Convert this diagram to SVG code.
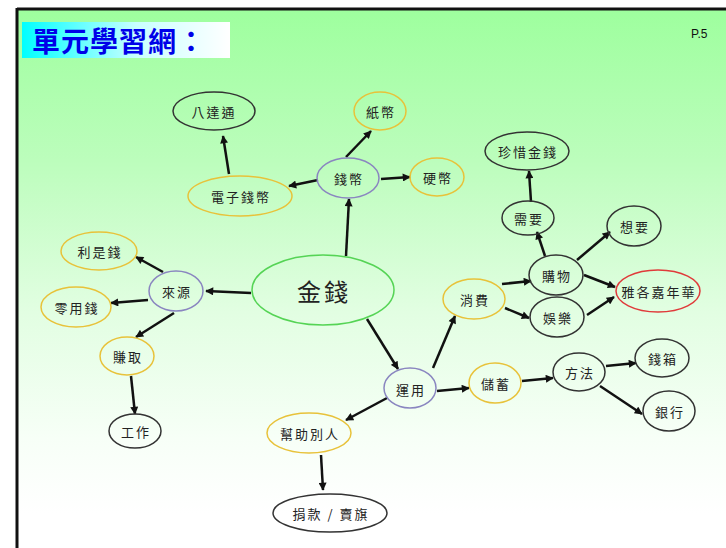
<svg xmlns="http://www.w3.org/2000/svg" width="726" height="548" viewBox="0 0 726 548">
<defs>
<linearGradient id="bg" x1="0" y1="0" x2="0" y2="1">
<stop offset="0" stop-color="#9eff9e"/>
<stop offset="0.3" stop-color="#bcfdbc"/>
<stop offset="0.6" stop-color="#e2fee2"/>
<stop offset="0.85" stop-color="#f7fff7"/>
<stop offset="1" stop-color="#ffffff"/>
</linearGradient>
<linearGradient id="tg" x1="0" y1="0" x2="1" y2="0">
<stop offset="0" stop-color="#00ffff"/>
<stop offset="0.55" stop-color="#c8ffff"/>
<stop offset="1" stop-color="#ffffff"/>
</linearGradient>
<marker id="ah" viewBox="0 0 10 10" refX="9" refY="5" markerWidth="9" markerHeight="8" markerUnits="userSpaceOnUse" orient="auto">
<path d="M0,0 L10,5 L0,10 z" fill="#111"/>
</marker>
</defs>
<style>
.n{fill:none;stroke-width:1.5}
.k{stroke:#333}
.y{stroke:#e8c23a}
.p{stroke:#8a86c0}
.r{stroke:#e03a3a}
.g{stroke:#55d455}
.t{font-family:"Noto Sans CJK TC","Noto Sans CJK SC",sans-serif;font-size:13px;fill:#222;text-anchor:middle;dominant-baseline:central;letter-spacing:2px}
#links line{stroke:#111;stroke-width:2.5;marker-end:url(#ah)}
</style>
<rect x="0" y="0" width="726" height="548" fill="#fff"/>
<rect x="17" y="9" width="720" height="505" fill="url(#bg)"/>
<line x1="17" y1="9" x2="726" y2="9" stroke="#111" stroke-width="3"/>
<line x1="17" y1="8" x2="17" y2="548" stroke="#111" stroke-width="3"/>
<g id="title">
<rect x="22" y="22" width="208" height="36" fill="url(#tg)"/>
<text x="32" y="52" font-family="'Noto Sans CJK TC','Noto Sans CJK SC',sans-serif" font-weight="bold" font-size="28" letter-spacing="1" fill="#0000e8">單元學習網：</text>
</g>
<text x="691" y="38" font-family="'Liberation Sans',Arial,sans-serif" font-size="12" fill="#111">P.5</text>
<g id="links">
<line x1="229" y1="174" x2="223" y2="136"/>
<line x1="346" y1="157" x2="371" y2="131"/>
<line x1="318" y1="180" x2="289" y2="186"/>
<line x1="381" y1="179" x2="410" y2="177"/>
<line x1="346" y1="256" x2="349" y2="199"/>
<line x1="531" y1="202" x2="529" y2="171"/>
<line x1="545" y1="256" x2="537" y2="232"/>
<line x1="577" y1="260" x2="610" y2="232"/>
<line x1="584" y1="275" x2="615" y2="287"/>
<line x1="502" y1="284" x2="531" y2="281"/>
<line x1="587" y1="315" x2="614" y2="297"/>
<line x1="505" y1="308" x2="529" y2="318"/>
<line x1="433" y1="368" x2="455" y2="316"/>
<line x1="163" y1="272" x2="136" y2="257"/>
<line x1="148" y1="300" x2="111" y2="303"/>
<line x1="174" y1="313" x2="136" y2="337"/>
<line x1="131" y1="376" x2="135" y2="414"/>
<line x1="251" y1="293" x2="206" y2="291"/>
<line x1="367" y1="319" x2="398" y2="369"/>
<line x1="437" y1="391" x2="469" y2="388"/>
<line x1="522" y1="381" x2="553" y2="378"/>
<line x1="606" y1="366" x2="636" y2="363"/>
<line x1="600" y1="386" x2="642" y2="414"/>
<line x1="387" y1="398" x2="346" y2="420"/>
<line x1="321" y1="455" x2="323" y2="490"/>
</g>
<g id="n-badatong"><ellipse class="n k" cx="214" cy="111" rx="41" ry="19"/><text class="t" x="214" y="111">八達通</text></g>
<g id="n-zhibi"><ellipse class="n y" cx="380" cy="111" rx="26" ry="19"/><text class="t" x="381" y="111">紙幣</text></g>
<g id="n-dianzi"><ellipse class="n y" cx="240" cy="196" rx="52" ry="20"/><text class="t" x="241" y="196">電子錢幣</text></g>
<g id="n-qianbi"><ellipse class="n p" cx="348" cy="178" rx="31" ry="20"/><text class="t" x="349" y="178">錢幣</text></g>
<g id="n-yingbi"><ellipse class="n y" cx="437" cy="177" rx="27" ry="19"/><text class="t" x="438" y="177">硬幣</text></g>
<g id="n-zhenxi"><ellipse class="n k" cx="527" cy="151" rx="42" ry="19"/><text class="t" x="528" y="151">珍惜金錢</text></g>
<g id="n-xuyao"><ellipse class="n k" cx="528" cy="218" rx="26" ry="17"/><text class="t" x="529" y="218">需要</text></g>
<g id="n-xiangyao"><ellipse class="n k" cx="634" cy="226" rx="27" ry="20"/><text class="t" x="635" y="226">想要</text></g>
<g id="n-gouwu"><ellipse class="n k" cx="556" cy="275" rx="27" ry="20"/><text class="t" x="557" y="275">購物</text></g>
<g id="n-yage"><ellipse class="n r" cx="658" cy="291" rx="42" ry="21"/><text class="t" x="659" y="291">雅各嘉年華</text></g>
<g id="n-xiaofei"><ellipse class="n y" cx="474" cy="299" rx="31" ry="20"/><text class="t" x="475" y="299">消費</text></g>
<g id="n-yule"><ellipse class="n k" cx="557" cy="317" rx="27" ry="20"/><text class="t" x="558" y="317">娛樂</text></g>
<g id="n-lishi"><ellipse class="n y" cx="99" cy="251" rx="38" ry="19"/><text class="t" x="100" y="251">利是錢</text></g>
<g id="n-laiyuan"><ellipse class="n p" cx="176" cy="291" rx="27" ry="20"/><text class="t" x="177" y="291">來源</text></g>
<g id="n-lingyong"><ellipse class="n y" cx="76" cy="307" rx="35" ry="20"/><text class="t" x="77" y="307">零用錢</text></g>
<g id="n-jinqian"><ellipse class="n g" cx="323" cy="290" rx="71" ry="35"/><text class="t" x="324" y="290" style="font-size:24px;letter-spacing:3px">金錢</text></g>
<g id="n-zhuanqu"><ellipse class="n y" cx="127" cy="356" rx="27" ry="19"/><text class="t" x="128" y="356">賺取</text></g>
<g id="n-gongzuo"><ellipse class="n k" cx="135" cy="431" rx="26" ry="17"/><text class="t" x="136" y="431">工作</text></g>
<g id="n-yunyong"><ellipse class="n p" cx="410" cy="388" rx="26" ry="20"/><text class="t" x="411" y="389">運用</text></g>
<g id="n-chuxu"><ellipse class="n y" cx="495" cy="383" rx="26" ry="20"/><text class="t" x="496" y="383">儲蓄</text></g>
<g id="n-fangfa"><ellipse class="n k" cx="579" cy="372" rx="26" ry="19"/><text class="t" x="580" y="372">方法</text></g>
<g id="n-qianxiang"><ellipse class="n k" cx="662" cy="358" rx="27" ry="19"/><text class="t" x="663" y="358">錢箱</text></g>
<g id="n-yinhang"><ellipse class="n k" cx="669" cy="411" rx="26" ry="20"/><text class="t" x="670" y="411">銀行</text></g>
<g id="n-bangzhu"><ellipse class="n y" cx="309" cy="433" rx="42" ry="20"/><text class="t" x="310" y="433">幫助別人</text></g>
<g id="n-juankuan"><ellipse class="n k" cx="330" cy="513" rx="57" ry="19"/><text class="t" x="331" y="513">捐款 / 賣旗</text></g>
</svg>
